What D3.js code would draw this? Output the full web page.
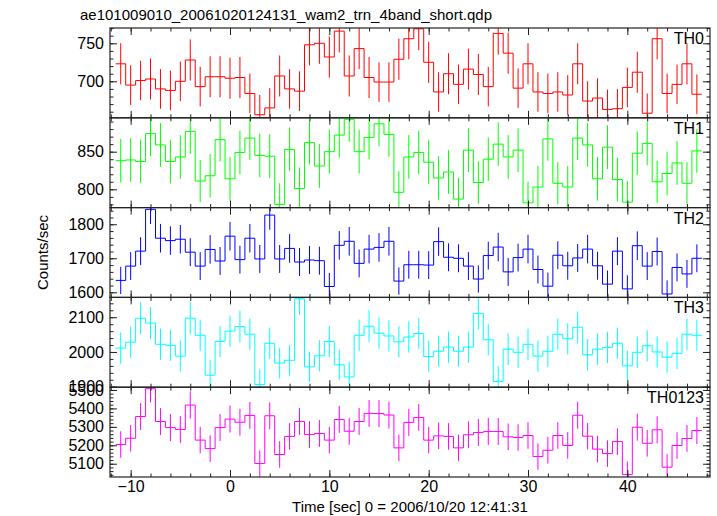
<!DOCTYPE html>
<html><head><meta charset="utf-8">
<script src="https://cdn.jsdelivr.net/npm/d3@7"></script>
<style>
body{margin:0;background:#fff}
svg{display:block}
text{font-family:"Liberation Sans",Arial,Helvetica,sans-serif;fill:#000}
</style>
</head><body>
<svg id="chart" width="717" height="516"></svg>
<script>
const titleText = "ae101009010_20061020124131_wam2_trn_4band_short.qdp";
const xLabel = "Time [sec] 0 = 2006/10/20 12:41:31";
const yLabel = "Counts/sec";

const times = [-11,-10,-9,-8,-7,-6,-5,-4,-3,-2,-1,0,1,2,3,4,5,6,7,8,9,10,11,12,13,14,15,16,17,18,19,20,21,22,23,24,25,26,27,28,29,30,31,32,33,34,35,36,37,38,39,40,41,42,43,44,45,46,47];

const th0 = [723,695,701,703,690,688,700,728,693,706,706, 704,705,684,656,665,707,690,687,748,750, 732,766,707,743,705,699,699,729,756,769, 725,686,710,696,716,709,693,763,737,691, 723,686,684,686,682,723,674,678,663,664, 692,712,658,756,684,696,723,683];
const th0Err = [27,26,26,27,26,26,26,27,26,27,27, 27,27,26,26,26,27,26,26,27,27, 27,28,27,27,27,26,26,27,27,28, 27,26,27,26,27,27,26,28,27,26, 27,26,26,26,26,27,26,26,26,26, 26,27,26,27,26,26,27,26];

const th1 = [838,839,837,874,859,837,843,877,811,818,866, 814,849,868,845,844,780,853,801,862,831, 850,872,893,850,869,887,873,796,843,849, 836,815,823,787,852,809,840,860,843,852, 782,803,867,808,803,868,859,814,856,813, 783,848,861,810,821,835,808,851];
const th1Err = [29,29,29,30,29,29,29,30,28,29,29, 29,29,29,29,29,28,29,28,29,29, 29,30,30,29,29,30,30,28,29,29, 29,29,29,28,29,28,29,29,29,29, 28,28,29,28,28,29,29,29,29,29, 28,29,29,28,29,29,28,29];

const th2 = [1635,1677,1721,1844,1759,1752,1756,1718,1677,1726,1692, 1765,1696,1759,1698,1827,1698,1729,1689,1695,1693, 1617,1738,1750,1685,1727,1732,1750,1633,1681,1681, 1680,1749,1703,1700,1677,1639,1708,1733,1660,1702, 1727,1667,1618,1709,1678,1701,1727,1678,1624,1721, 1610,1737,1677,1720,1595,1673,1654,1700];
const th2Err = [40,41,41,43,42,42,42,41,41,42,41, 42,41,42,41,43,41,42,41,41,41, 40,42,42,41,42,42,42,40,41,41, 41,42,41,41,41,40,41,42,41,41, 42,41,40,41,41,41,42,41,40,41, 40,42,41,41,40,41,41,41];

const th3 = [2011,2028,2097,2083,2022,2019,1988,2097,2048,1933,2030, 2060,2073,2051,1906,2025,1968,1976,2153,1957,1989, 2030,1963,1928,2048,2074,2054,2046,2029,2043,2053, 1987,2002,2014,2002,2014,2111,2035,1915,2008,1999, 2022,1988,2002,2051,2038,2071,1992,2008,2013,2025, 1960,1999,2018,2000,1985,1996,2051,2048];
const th3Err = [45,45,46,46,45,45,45,46,45,44,45, 45,46,45,44,45,44,44,46,44,45, 45,44,44,45,46,45,45,45,45,45, 45,45,45,45,45,46,45,44,45,45, 45,45,45,45,45,46,45,45,45,45, 44,45,45,45,45,45,45,45];

const th0123 = [5204,5238,5356,5507,5329,5296,5286,5418,5228,5182,5296, 5342,5325,5362,5101,5360,5150,5248,5329,5258,5264, 5228,5340,5276,5329,5373,5372,5364,5186,5324,5351, 5228,5251,5248,5186,5257,5269,5275,5275,5246,5242, 5253,5139,5173,5253,5199,5363,5249,5179,5155,5220, 5041,5298,5211,5284,5081,5199,5237,5280];
const th0123Err = [72,72,73,74,73,73,73,74,72,72,73, 73,73,73,71,73,72,72,73,73,73, 72,73,73,73,73,73,73,72,73,73, 72,72,72,72,73,73,73,73,72,72, 72,72,72,72,72,73,72,72,72,72, 71,73,72,73,71,72,72,73];

const panelNames = ["TH0","TH1","TH2","TH3","TH0123"];
const panelValues = [th0, th1, th2, th3, th0123];
const panelErrors = [th0Err, th1Err, th2Err, th3Err, th0123Err];
const panelColors = ["#ff0000","#00ff00","#0000ff","#00ffff","#ff00ff"];
const yDomains = [[652,770.1],[775.7,895],[1585,1849],[1898.6,2157],[5028,5515]];
const yTickLabels = [[700,750],[800,850],[1600,1700,1800],[1900,2000,2100],[5100,5200,5300,5400,5500]];
const yMinorSteps = [10,10,20,20,20];
const xDomain = [-12.08, 48.32];
const xTickLabels = [-10,0,10,20,30,40];
const xMinorStep = 2;
const binWidth = 1;

// layout
const L = 110, R = 710, T = 28, B = 477;
const nP = panelNames.length;
const ph = (B - T) / nP;
const frameColor = "#222";

const svg = d3.select("#chart");
const x = d3.scaleLinear().domain(xDomain).range([L, R]);
const xMinor = d3.range(Math.ceil(xDomain[0]/xMinorStep)*xMinorStep, xDomain[1], xMinorStep);

svg.append("text").attr("x", 80).attr("y", 20).attr("font-size", 15).text(titleText);

panelNames.forEach((name, i) => {
  const y0 = T + i*ph, y1 = y0 + ph;
  const y = d3.scaleLinear().domain(yDomains[i]).range([y1, y0]);
  const g = svg.append("g");
  const clipId = "clip" + i;
  svg.append("defs").append("clipPath").attr("id", clipId)
    .append("rect").attr("x", L).attr("y", y0).attr("width", R-L).attr("height", ph);

  const vals = panelValues[i], errs = panelErrors[i];
  const pts = times.map((t, k) => [t - binWidth/2, vals[k]]);
  pts.push([times[times.length-1] + binWidth/2, vals[vals.length-1]]);
  const line = d3.line().x(d => x(d[0])).y(d => y(d[1])).curve(d3.curveStepAfter);
  const dg = g.append("g").attr("clip-path", `url(#${clipId})`);
  dg.append("path").attr("d", line(pts)).attr("fill","none")
    .attr("stroke", panelColors[i]).attr("stroke-width", 1);
  dg.selectAll("line.err").data(times).join("line").attr("class","err")
    .attr("x1", t => x(t)).attr("x2", t => x(t))
    .attr("y1", (t,k) => y(vals[k]-errs[k])).attr("y2", (t,k) => y(vals[k]+errs[k]))
    .attr("stroke", panelColors[i]).attr("stroke-width", 1);

  // y axes
  const st = yMinorSteps[i];
  const yMinor = d3.range(Math.ceil(yDomains[i][0]/st)*st, yDomains[i][1], st);
  const styleAxis = a => { a.select(".domain").remove(); a.selectAll("line").attr("stroke", frameColor); };
  g.append("g").attr("transform", `translate(${L},0)`)
    .call(d3.axisLeft(y).tickValues(yMinor).tickSize(-3.5).tickFormat("")).call(styleAxis);
  g.append("g").attr("transform", `translate(${L},0)`)
    .call(d3.axisLeft(y).tickValues(yTickLabels[i]).tickSize(-7).tickPadding(6).tickFormat(d3.format("d")))
    .call(styleAxis).selectAll("text").attr("font-size", 16).attr("fill","#000").attr("font-family", '"Liberation Sans",Arial,sans-serif');
  g.append("g").attr("transform", `translate(${R},0)`)
    .call(d3.axisRight(y).tickValues(yMinor).tickSize(-3.5).tickFormat("")).call(styleAxis);
  g.append("g").attr("transform", `translate(${R},0)`)
    .call(d3.axisRight(y).tickValues(yTickLabels[i]).tickSize(-7).tickFormat("")).call(styleAxis);

  // x axes
  g.append("g").attr("transform", `translate(0,${y0})`)
    .call(d3.axisTop(x).tickValues(xMinor).tickSize(-3.5).tickFormat("")).call(styleAxis);
  g.append("g").attr("transform", `translate(0,${y0})`)
    .call(d3.axisTop(x).tickValues(xTickLabels).tickSize(-7).tickFormat("")).call(styleAxis);
  g.append("g").attr("transform", `translate(0,${y1})`)
    .call(d3.axisBottom(x).tickValues(xMinor).tickSize(-3.5).tickFormat("")).call(styleAxis);
  const bx = g.append("g").attr("transform", `translate(0,${y1})`)
    .call(d3.axisBottom(x).tickValues(xTickLabels).tickSize(-7).tickPadding(4)
      .tickFormat(i === nP-1 ? d3.format("d") : ""))
    .call(styleAxis);
  bx.selectAll("text").attr("font-size", 16).attr("fill","#000").attr("font-family", '"Liberation Sans",Arial,sans-serif');

  g.append("rect").attr("x", L).attr("y", y0).attr("width", R-L).attr("height", ph)
    .attr("fill","none").attr("stroke", frameColor).attr("stroke-width", 1.2);

  g.append("text").attr("x", R - 6).attr("y", y0 + 16).attr("text-anchor","end")
    .attr("font-size", 16).text(name);
});

svg.append("text").attr("transform", `translate(48,${(T+B)/2}) rotate(-90)`)
  .attr("text-anchor","middle").attr("font-size", 15).text(yLabel);
svg.append("text").attr("x", (L+R)/2).attr("y", 512).attr("text-anchor","middle")
  .attr("font-size", 15).text(xLabel);
</script>
</body></html>
